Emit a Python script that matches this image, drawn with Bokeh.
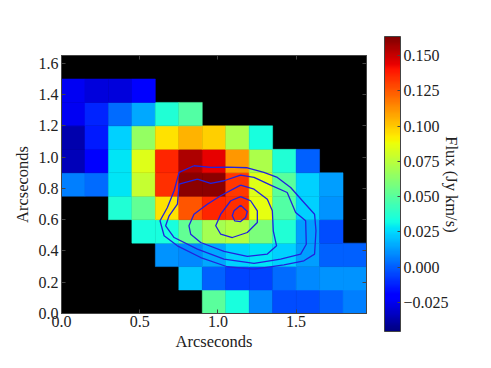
from bokeh.plotting import figure
from bokeh.models import LinearAxis, FixedTicker, PrintfTickFormatter, ColorBar, LinearColorMapper
from bokeh.embed import file_html
from bokeh.resources import INLINE
import numpy as np

VMIN, VMAX = -0.0455, 0.1635
# Scaled jet position (0..1) of each cell, bottom row first; None = no data (black)
N = None
rows = [
 [N,N,N,N,N,N,.46,.38,.26,.20,.20,.22,.25],
 [N,N,N,N,N,.32,.22,.19,.19,.23,.26,.27,.27],
 [N,N,N,N,.27,.26,.29,.33,.35,.33,.28,.22,.22],
 [N,N,N,.38,.38,.47,.55,.57,.50,.39,.28,.20,N],
 [N,N,.39,.47,.67,.82,.87,.86,.63,.45,.33,.27,N],
 [.25,.23,.35,.59,.86,.99,.99,.85,.62,.46,.33,.28,N],
 [.05,.11,.35,.62,.87,.96,.91,.75,.56,.39,.22,N,N],
 [.04,.15,.33,.53,.67,.72,.69,.56,.38,N,N,N,N],
 [.10,.16,.23,.29,.39,.45,N,N,N,N,N,N,N],
 [.10,.08,.08,.11,N,N,N,N,N,N,N,N,N],
 [N,N,N,N,N,N,N,N,N,N,N,N,N],
]
CELL = 0.15
x_ticks = [0.0, 0.5, 1.0, 1.5]
y_ticks = [0.0, 0.2, 0.4, 0.6, 0.8, 1.0, 1.2, 1.4, 1.6]
cbar_ticks = [-0.025, 0.0, 0.025, 0.05, 0.075, 0.1, 0.125, 0.15]

c1x = [.847,.954,1.06,1.188,1.294,1.38,1.465,1.55,1.618,1.627,1.618,1.55,1.422,1.231,1.06,.89,.741,.656,.63,.677,.72,.752,.847]
c1y = [.945,.934,.936,.932,.902,.87,.806,.71,.635,.529,.38,.337,.311,.284,.299,.358,.433,.497,.593,.678,.785,.902,.945]
c2x = [.869,.954,1.039,1.145,1.231,1.337,1.443,1.497,1.561,1.565,1.529,1.401,1.231,1.039,.869,.72,.666,.688,.741,.752,.869]
c2y = [.859,.832,.849,.885,.87,.821,.774,.646,.593,.443,.38,.348,.32,.348,.412,.486,.561,.625,.699,.827,.859]
c3x = [1.145,1.231,1.316,1.348,1.354,1.375,1.316,1.188,1.039,.89,.826,.815,.847,.932,1.018,1.145]
c3y = [.821,.795,.731,.657,.529,.433,.38,.365,.397,.454,.507,.561,.635,.699,.753,.821]
c4x = [1.145,1.209,1.252,1.252,1.188,1.092,1.018,.986,1.018,1.082,1.145]
c4y = [.748,.721,.657,.582,.518,.486,.507,.561,.635,.721,.748]
c5x = [1.145,1.188,1.177,1.145,1.107,1.092,1.103,1.145]
c5y = [.693,.652,.614,.588,.593,.625,.657,.693]

FONT = "Liberation Serif"
TXT = "#222222"
EDGE = "#444444"

def jet(t):
    r = np.interp(t, [0, .35, .66, .89, 1], [0, 0, 1, 1, .5])
    g = np.interp(t, [0, .125, .375, .64, .91, 1], [0, 0, 1, 1, 0, 0])
    b = np.interp(t, [0, .11, .34, .65, 1], [.5, 1, 1, 0, 0])
    return "#%02x%02x%02x" % (int(r*255), int(g*255), int(b*255))

p = figure(width=476, height=358, x_range=(0, 1.95), y_range=(0, 1.65),
           output_backend="svg", toolbar_location=None,
           min_border_left=61, min_border_right=110, min_border_top=55, min_border_bottom=45,
           background_fill_color="black", border_fill_color="white",
           outline_line_color=EDGE)
p.grid.visible = False

left, right, bottom, top, colors = [], [], [], [], []
for j, r in enumerate(rows):
    for i, t in enumerate(r):
        if t is None:
            continue
        left.append(i*CELL); right.append((i+1)*CELL)
        bottom.append(j*CELL); top.append((j+1)*CELL)
        colors.append(jet(t))
p.quad(left=left, right=right, bottom=bottom, top=top, fill_color=colors, fill_alpha=1.0,
       line_color=colors, line_alpha=1.0, line_width=0.5)

for cx, cy in [(c1x,c1y),(c2x,c2y),(c3x,c3y),(c4x,c4y),(c5x,c5y)]:
    p.line(cx, cy, line_color="#2222dd", line_width=1.3, line_join="round")

def style(ax, ticks, labels=True):
    ax.ticker = FixedTicker(ticks=ticks)
    ax.minor_tick_line_color = None
    ax.major_tick_in = 4
    ax.major_tick_out = 0
    ax.axis_line_color = EDGE
    ax.major_tick_line_color = EDGE
    ax.major_label_text_font = FONT
    ax.major_label_text_color = TXT
    ax.major_label_text_font_size = "16px"
    if not labels:
        ax.major_label_overrides = {t: "" for t in ticks}
        ax.major_label_standoff = 0
    ax.axis_label_text_font = FONT
    ax.axis_label_text_color = TXT
    ax.axis_label_text_font_size = "16.5px"
    ax.axis_label_text_font_style = "normal"

style(p.xaxis[0], x_ticks)
style(p.yaxis[0], y_ticks)
p.xaxis[0].axis_label = "Arcseconds"
p.yaxis[0].axis_label = "Arcseconds"
p.xaxis[0].major_label_standoff = 2
p.yaxis[0].major_label_standoff = 3
p.xaxis[0].axis_label_standoff = 2
p.yaxis[0].axis_label_standoff = 4
p.xaxis[0].formatter = PrintfTickFormatter(format="%.1f")
p.yaxis[0].formatter = PrintfTickFormatter(format="%.1f")

top_ax = LinearAxis(); style(top_ax, x_ticks, False)
right_ax = LinearAxis(); style(right_ax, y_ticks, False)
right_ax.axis_label = "Flux (Jy km/s)"
right_ax.axis_label_standoff = 75
p.add_layout(top_ax, "above")
p.add_layout(right_ax, "right")

mapper = LinearColorMapper(palette=[jet(i/255) for i in range(256)], low=VMIN, high=VMAX)
cb = ColorBar(color_mapper=mapper, ticker=FixedTicker(ticks=cbar_ticks),
              formatter=PrintfTickFormatter(format="%.3f"),
              major_label_overrides={-0.025: "\u22120.025"},
              location=(323, -18), width=16, height=295, padding=0, margin=0,
              background_fill_color=None, border_line_color=None,
              bar_line_color=EDGE, major_tick_line_color=EDGE, major_tick_in=3, major_tick_out=0,
              minor_tick_line_color=None, label_standoff=3,
              major_label_text_font=FONT, major_label_text_color=TXT,
              major_label_text_font_size="16px")
p.add_layout(cb, "center")

open("out.html", "w").write(file_html(p, INLINE))
